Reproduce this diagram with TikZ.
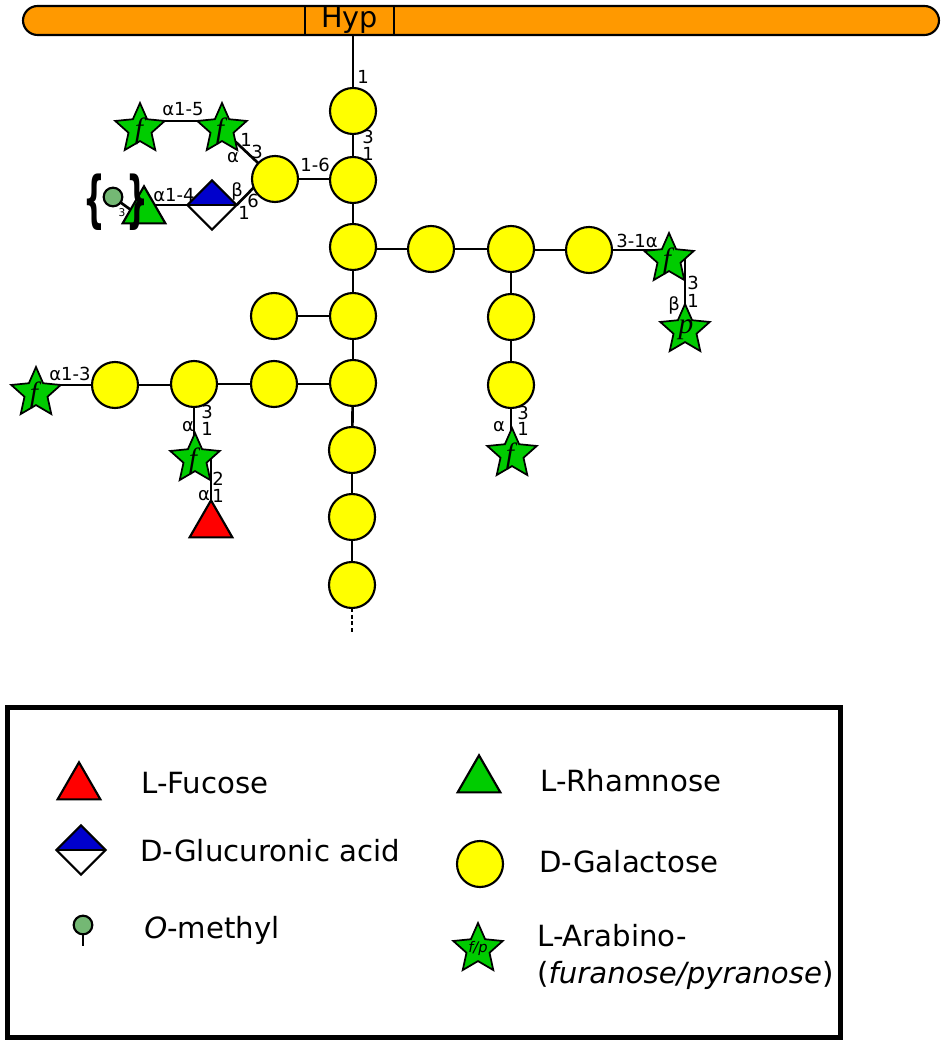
\documentclass[tikz,border=0pt]{standalone}
\usepackage{fontspec}
\setmainfont{DejaVu Sans}
\newfontfamily\starfont{Liberation Serif}
\usetikzlibrary{shapes.geometric}
\pgfdeclarelayer{bg}
\pgfsetlayers{bg,main}
\definecolor{galy}{HTML}{FFFF00}
\definecolor{arag}{HTML}{00CC00}
\definecolor{fucr}{HTML}{FF0000}
\definecolor{glcb}{HTML}{0000CC}
\definecolor{hypo}{HTML}{FF9900}
\definecolor{mego}{HTML}{74B874}
\tikzset{
  x=.75pt,y=-.75pt,
  shp/.style={draw=black,line width=1.6pt,inner sep=0pt,outer sep=0pt},
  gal/.style={shp,circle,fill=galy,minimum size=34.5pt},
  ara/.style={shp,line width=1.3pt,star,star points=5,star point ratio=2.15,fill=arag,minimum size=39pt},
  tri/.style={shp,regular polygon,regular polygon sides=3,minimum size=37pt},
  glc/.style={shp,diamond,aspect=1,minimum width=37pt,minimum height=37pt,fill=white,
    path picture={\fill[glcb] (path picture bounding box.north west) rectangle (path picture bounding box.east);
      \draw[line width=1.6pt] (path picture bounding box.west) -- (path picture bounding box.east);}},
  mec/.style={shp,circle,fill=mego,minimum size=14pt},
  lnk/.style={line width=2pt,line cap=butt},
  lab/.style={font=\fontsize{13.5}{15}\selectfont,inner sep=0pt},
  fp/.style={font=\fontsize{22}{23}\selectfont\starfont\itshape,inner sep=0pt},
  leg/.style={font=\fontsize{21.9}{25}\selectfont,inner sep=0pt,anchor=base west},
}
\begin{document}
\begin{tikzpicture}
\useasboundingbox (0,0) rectangle (945,1044);
\begin{pgfonlayer}{bg}
\fill[white] (0,0) rectangle (945,1044);
\end{pgfonlayer}
% membrane
\node[shp,rounded corners=11pt,fill=hypo,minimum width=687pt,minimum height=21.75pt,anchor=north west] (bar) at (23,6) {};
\coordinate (hl) at (305,6);\coordinate (hr) at (394,6);
\draw[lnk] (hl) -- (hl |- bar.south);
\draw[lnk] (hr) -- (hr |- bar.south);
\node[font=\fontsize{21.5}{25}\selectfont,inner sep=0pt,anchor=base] (hyp) at (349.5,28) {Hyp};
% galactoses
\node[gal] (m1) at (353,111) {};
\node[gal] (m2) at (353,180) {};
\node[gal] (m3) at (353,247) {};
\node[gal] (m4) at (353,316) {};
\node[gal] (m5) at (353,383) {};
\node[gal] (m6) at (352,450) {};
\node[gal] (m7) at (352,517) {};
\node[gal] (m8) at (352,585) {};
\node[gal] (g16) at (275,179) {};
\node[gal] (r1) at (431,249) {};
\node[gal] (r2) at (511,249) {};
\node[gal] (r3) at (589,250) {};
\node[gal] (d1) at (511,317) {};
\node[gal] (d2) at (511,385) {};
\node[gal] (sb) at (274,316) {};
\node[gal] (l1) at (274,384) {};
\node[gal] (l2) at (194,384) {};
\node[gal] (l3) at (115,385) {};
% arabinoses
\node[ara] (a1) at (140,129) {};
\node[ara] (a2) at (222,129) {};
\node[ara] (a3) at (36,393) {};
\node[ara] (a4) at (195,459) {};
\node[ara] (a5) at (512,454) {};
\node[ara] (a6) at (669,259) {};
\node[ara] (a7) at (685,330) {};
\node[fp] (t1) at (139,131) {f};
\node[fp] (t2) at (220,131) {f};
\node[fp] (t3) at (34,395) {f};
\node[fp] (t4) at (193,461) {f};
\node[fp] (t5) at (510,456) {f};
\node[fp] (t6) at (667,261) {f};
\node[fp] (t7) at (686,330) {p};
% others
\node[tri,fill=fucr] (fuc) at (211,525) {};
\node[tri,fill=arag] (rha) at (144,211) {};
\node[glc] (glca) at (212,205) {};
\node[mec] (me) at (113,197) {};
\coordinate (meend) at (131,210);
\node[inner sep=0pt,font=\fontsize{8}{9}\selectfont] (me3) at (122,213) {3};
\node[inner sep=0pt,font=\fontsize{46}{50}\selectfont\bfseries] (bl) at (94,202) {\scalebox{.5}[1]{\{}};
\node[inner sep=0pt,font=\fontsize{46}{50}\selectfont\bfseries] (br) at (137,202) {\scalebox{.5}[1]{\}}};
% connectors
\coordinate (mend) at (352,632);
\begin{pgfonlayer}{bg}
\draw[lnk] (bar.south -| m1) -- (m1);
\draw[lnk] (m1) -- (m2);\draw[lnk] (m2) -- (m3);\draw[lnk] (m3) -- (m4);\draw[lnk] (m4) -- (m5);
\draw[lnk] (m5) -- (m6);\draw[lnk] (m6) -- (m7);\draw[lnk] (m7) -- (m8);
\draw[lnk,dash pattern=on 3pt off 2pt] (m8.south) -- (mend);
\draw[lnk] (g16) -- (g16 -| m2);
\draw[lnk] (r1) -- (r1 -| m3);\draw[lnk] (r1) -- (r2);\draw[lnk] (r3) -- (r3 -| r2);
\draw[lnk] (r2) -- (d1);\draw[lnk] (d1) -- (d2);\draw[lnk] (d2) -- (d2 |- a5);
\draw[lnk] (r3) -- (r3 -| a6);
\draw[lnk] (a7.north) -- (a7.north |- a6);
\draw[lnk] (sb) -- (m4);
\draw[lnk] (l3) -- (l3 -| a3);\draw[lnk] (l3) -- (l3 -| l2);\draw[lnk] (l2) -- (l1);\draw[lnk] (l1) -- (l1 -| m5);
\draw[lnk] (l2) -- (l2 |- a4);
\draw[lnk] (fuc.north) -- (fuc.north |- a4);
\draw[lnk] (a1.outer point 5) -- (a2.outer point 2);
\draw[lnk] (a2) -- (g16);
\draw[lnk] (glca.east) -- (g16.202);
\draw[lnk] (glca.west) -- (rha |- glca.west);
\draw[lnk] (me) -- (meend);
\end{pgfonlayer}
% linkage labels
\node[lab] (n01) at (363,77) {1};
\node[lab] (n02) at (368,137) {3};
\node[lab] (n03) at (368,154) {1};
\node[lab] (n04) at (315,165) {1-6};
\node[lab] (n05) at (183,109) {α1-5};
\node[lab] (n06) at (246,140) {1};
\node[lab] (n07) at (257,152) {3};
\node[lab] (n08) at (233,158) {α};
\node[lab] (n09) at (174,195) {α1-4};
\node[lab] (n10) at (237,191) {β};
\node[lab] (n11) at (253,201) {6};
\node[lab] (n12) at (244,213) {1};
\node[lab] (n13) at (70,374) {α1-3};
\node[lab] (n14) at (207,412) {3};
\node[lab] (n15) at (207,429) {1};
\node[lab] (n16) at (188,427) {α};
\node[lab] (n17) at (218,479) {2};
\node[lab] (n18) at (218,496) {1};
\node[lab] (n19) at (204,496) {α};
\node[lab] (n20) at (637,241) {3-1α};
\node[lab] (n21) at (693,283) {3};
\node[lab] (n22) at (693,301) {1};
\node[lab] (n23) at (674,305) {β};
\node[lab] (n24) at (523,413) {3};
\node[lab] (n25) at (523,429) {1};
\node[lab] (n26) at (499,427) {α};
% legend
\node[draw=black,line width=3.75pt,fill=none,minimum width=625pt,minimum height=248pt,inner sep=0pt,outer sep=0pt,anchor=north west] (box) at (7,707) {};
\node[tri,fill=fucr] (kfuc) at (79,787) {};
\node[leg] (tfuc) at (141,793) {L-Fucose};
\node[glc] (kglc) at (81,850) {};
\node[leg] (tglc) at (140,861) {D-Glucuronic acid};
\node[mec] (kme) at (83,925) {};
\coordinate (kmeend) at (83,946);
\begin{pgfonlayer}{bg}\draw[lnk] (kme) -- (kmeend);\end{pgfonlayer}
\node[leg] (tme) at (144,938) {\textit{O}-methyl};
\node[tri,fill=arag] (krha) at (479,780) {};
\node[leg] (trha) at (540,791) {L-Rhamnose};
\node[gal] (kgal) at (480,864) {};
\node[leg] (tgal) at (539,872) {D-Galactose};
\node[ara] (kara) at (478,949) {};
\node[font=\fontsize{11}{13}\selectfont\itshape,inner sep=0pt] (tfp) at (478,948) {f/p};
\node[leg] (tar1) at (537,946) {L-Arabino-};
\node[leg] (tar2) at (537,983) {(\textit{furanose/pyranose})};
\end{tikzpicture}
\end{document}
